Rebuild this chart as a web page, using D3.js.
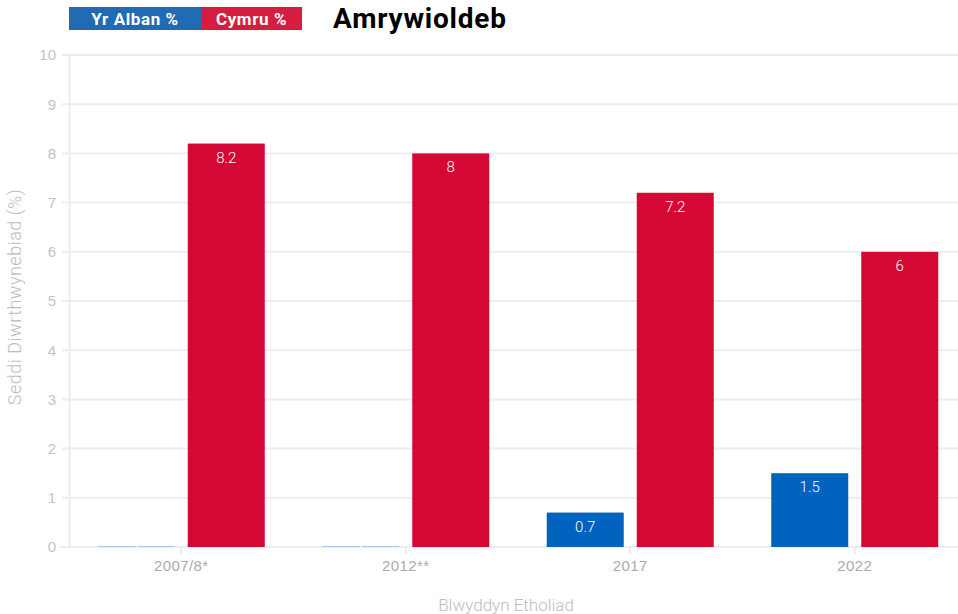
<!DOCTYPE html>
<html>
<head>
<meta charset="utf-8">
<script src="https://cdn.jsdelivr.net/npm/d3@7"></script>
<style>
  body { margin: 0; background: #fff; }
  svg { display: block; font-family: "Roboto", "DejaVu Sans", sans-serif; }
</style>
</head>
<body>
<div id="chart"></div>
<script>
var years = ["2007/8*", "2012**", "2017", "2022"];
var seriesNames = ["Yr Alban %", "Cymru %"];
var albanValues = [0, 0, 0.7, 1.5];
var cymruValues = [8.2, 8, 7.2, 6];
var yTicks = [0, 1, 2, 3, 4, 5, 6, 7, 8, 9, 10];

var W = 958, H = 614;
var barColor = { "Yr Alban %": "#0063be", "Cymru %": "#d40833" };
var legendColor = { "Yr Alban %": "#1f6bb4", "Cymru %": "#d51d3f" };

var rows = years.map(function(y, i) {
  return { year: y, vals: [
    { key: seriesNames[0], value: albanValues[i] },
    { key: seriesNames[1], value: cymruValues[i] }
  ]};
});

var svg = d3.select("#chart").append("svg")
  .attr("width", W).attr("height", H);

var scaleY = d3.scaleLinear().domain([0, 10]).range([547, 55]);
var scaleX = d3.scaleBand().domain(years).range([69, 967])
  .paddingInner(0.256).paddingOuter(0.128);
var scaleS = d3.scaleBand().domain(seriesNames).range([0, scaleX.bandwidth()]).paddingInner(0.1444);

// gridlines
svg.append("g").selectAll("line")
  .data(yTicks)
  .enter().append("line")
  .attr("x1", 62).attr("x2", W)
  .attr("y1", function(d) { return scaleY(d); })
  .attr("y2", function(d) { return scaleY(d); })
  .attr("stroke", "#ededed")
  .attr("stroke-width", 2);

// y axis
var axisY = d3.axisLeft(scaleY).tickValues(yTicks).tickSize(0).tickPadding(13);
var gy = svg.append("g")
  .attr("transform", "translate(69,0)")
  .call(axisY);
gy.select(".domain").attr("stroke", "#ededed").attr("stroke-width", 2);
gy.selectAll("text").attr("fill", "#c4c4c4").attr("font-size", "15px").attr("font-weight", 300);

// x axis
var axisX = d3.axisBottom(scaleX).tickSize(7).tickPadding(6);
var gx = svg.append("g")
  .attr("transform", "translate(0,547)")
  .call(axisX);
gx.select(".domain").remove();
gx.selectAll("line").attr("stroke", "#ededed").attr("stroke-width", 2);
gx.selectAll("text").attr("fill", "#ababab").attr("font-size", "15px").attr("font-weight", 300)
  .attr("letter-spacing", "0.4px");
svg.append("line")
  .attr("x1", 60).attr("x2", W).attr("y1", 547).attr("y2", 547)
  .attr("stroke", "#ededed").attr("stroke-width", 2);

// bars
var group = svg.append("g").selectAll(".grp")
  .data(rows)
  .enter().append("g")
  .attr("class", "grp")
  .attr("transform", function(d) { return "translate(" + scaleX(d.year) + ",0)"; });

group.selectAll("rect")
  .data(function(d) { return d.vals.filter(function(v) { return v.value > 0; }); })
  .enter().append("rect")
  .attr("x", function(d) { return scaleS(d.key); })
  .attr("width", scaleS.bandwidth())
  .attr("y", function(d) { return scaleY(d.value); })
  .attr("height", function(d) { return scaleY(0) - scaleY(d.value); })
  .attr("fill", function(d) { return barColor[d.key]; });

// zero-valued bars show as a faint line
group.selectAll(".zero")
  .data(function(d) { return d.vals.filter(function(v) { return v.value == 0; }); })
  .enter().append("line")
  .attr("class", "zero")
  .attr("x1", function(d) { return scaleS(d.key); })
  .attr("x2", function(d) { return scaleS(d.key) + scaleS.bandwidth(); })
  .attr("y1", scaleY(0) - 0.5).attr("y2", scaleY(0) - 0.5)
  .attr("stroke", "#a9c8e6")
  .attr("stroke-width", 1)
  .attr("stroke-dasharray", "38,2,37");

group.selectAll(".lbl")
  .data(function(d) { return d.vals.filter(function(v) { return v.value > 0; }); })
  .enter().append("text")
  .attr("class", "lbl")
  .attr("x", function(d) { return scaleS(d.key) + scaleS.bandwidth() / 2; })
  .attr("y", function(d) { return scaleY(d.value) + 19; })
  .attr("text-anchor", "middle")
  .attr("fill", "#fff")
  .attr("font-size", "15px")
  .attr("font-weight", 300)
  .text(function(d) { return d.value; });

// axis titles
svg.append("text")
  .attr("transform", "translate(21,297) rotate(-90)")
  .attr("text-anchor", "middle")
  .attr("fill", "#bdbdbd")
  .attr("font-size", "18px")
  .attr("font-weight", 300)
  .attr("letter-spacing", "0.5px")
  .text("Seddi Diwrthwynebiad (%)");

svg.append("text")
  .attr("x", 506).attr("y", 611)
  .attr("text-anchor", "middle")
  .attr("fill", "#bdbdbd")
  .attr("font-size", "17px")
  .attr("font-weight", 300)
  .text("Blwyddyn Etholiad");

// legend
var legW = [132, 101];
var legX = [69, 201];
var leg = svg.append("g").selectAll(".leg")
  .data(seriesNames)
  .enter().append("g")
  .attr("class", "leg");
leg.append("rect")
  .attr("x", function(d, i) { return legX[i]; })
  .attr("y", 7)
  .attr("width", function(d, i) { return legW[i]; })
  .attr("height", 23)
  .attr("fill", function(d) { return legendColor[d]; });
leg.append("text")
  .attr("x", function(d, i) { return legX[i] + legW[i] / 2; })
  .attr("y", 25)
  .attr("text-anchor", "middle")
  .attr("fill", "#fff")
  .attr("font-size", "17px")
  .attr("font-weight", "bold")
  .attr("letter-spacing", "0.6px")
  .text(function(d) { return d; });

// title
svg.append("text")
  .attr("x", 333).attr("y", 28)
  .attr("fill", "#000")
  .attr("font-size", "28px")
  .attr("font-weight", "bold")
  .attr("letter-spacing", "0.8px")
  .text("Amrywioldeb");
</script>
</body>
</html>
